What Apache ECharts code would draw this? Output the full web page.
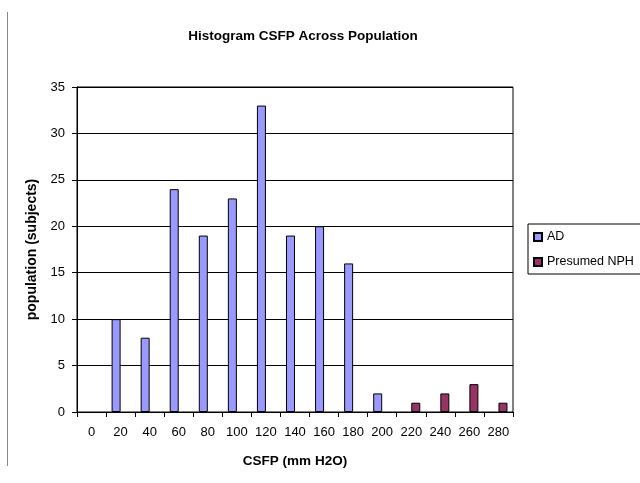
<!DOCTYPE html>
<html>
<head>
<meta charset="utf-8">
<script src="https://cdn.jsdelivr.net/npm/echarts@6/dist/echarts.min.js"></script>
<style>
  html, body { margin: 0; padding: 0; background: #fff; }
  #chart { width: 640px; height: 483px; }
</style>
</head>
<body>
<div id="chart"></div>
<script>
// CSFP bins (mm H2O)
const categories = ['0', '20', '40', '60', '80', '100', '120', '140', '160', '180', '200', '220', '240', '260', '280'];
// subjects per bin
const adValues = [0, 10, 8, 24, 19, 23, 33, 19, 20, 16, 2, 0, 0, 0, 0];
const nphValues = [0, 0, 0, 0, 0, 0, 0, 0, 0, 0, 0, 1, 2, 3, 1];

// empty bins get no bar at all (Excel draws nothing there)
const noZero = arr => arr.map(v => (v === 0 ? null : v));

const chart = echarts.init(document.getElementById('chart'));

const font = 'Liberation Sans, Arial, sans-serif';

const option = {
    animation: false,
    backgroundColor: '#fff',
    title: {
        text: 'Histogram CSFP Across Population',
        left: 298,
        top: 24,
        textAlign: 'center',
        textStyle: { fontFamily: font, fontSize: 13.5, fontWeight: 'bold', color: '#000' }
    },
    legend: {
        orient: 'vertical',
        left: 528,
        top: 224,
        padding: [6, 20, 5, 5],
        itemGap: 11,
        itemWidth: 8,
        itemHeight: 8,
        borderColor: '#000',
        borderWidth: 1,
        icon: 'rect',
        textStyle: { fontFamily: font, fontSize: 12.5, lineHeight: 14, color: '#000' },
        data: ['AD', 'Presumed NPH']
    },
    grid: {
        left: 77,
        right: 127,
        top: 87,
        bottom: 71,
        show: true,
        borderColor: '#000',
        borderWidth: 1
    },
    xAxis: {
        type: 'category',
        data: categories,
        name: 'CSFP (mm H2O)',
        nameLocation: 'middle',
        nameGap: 42,
        nameTextStyle: { fontFamily: font, fontSize: 13.5, fontWeight: 'bold', color: '#000' },
        axisLine: { lineStyle: { color: '#000', width: 1 } },
        axisTick: { show: true, length: 5, lineStyle: { color: '#000' } },
        axisLabel: { fontFamily: font, fontSize: 13, color: '#000', margin: 14 }
    },
    yAxis: {
        type: 'value',
        min: 0,
        max: 35,
        interval: 5,
        name: 'population (subjects)',
        nameLocation: 'middle',
        nameGap: 37,
        nameTextStyle: { fontFamily: font, fontSize: 14, fontWeight: 'bold', color: '#000' },
        axisLine: { show: true, lineStyle: { color: '#000', width: 1 } },
        axisTick: { show: true, length: 5, lineStyle: { color: '#000' } },
        axisLabel: { fontFamily: font, fontSize: 13, color: '#000', margin: 12 },
        splitLine: { lineStyle: { color: '#000', width: 1 } }
    },
    series: [
        {
            name: 'AD',
            type: 'bar',
            data: noZero(adValues),
            barWidth: 9,
            barGap: '0%',
            itemStyle: { color: '#9999FF', borderColor: '#000', borderWidth: 1 }
        },
        {
            name: 'Presumed NPH',
            type: 'bar',
            data: noZero(nphValues),
            barWidth: 9,
            itemStyle: { color: '#993366', borderColor: '#000', borderWidth: 1 }
        }
    ],
    graphic: [
        {
            type: 'line',
            shape: { x1: 7.5, y1: 12, x2: 7.5, y2: 466 },
            style: { stroke: '#888', lineWidth: 1 }
        }
    ]
};

chart.setOption(option);
</script>
</body>
</html>
